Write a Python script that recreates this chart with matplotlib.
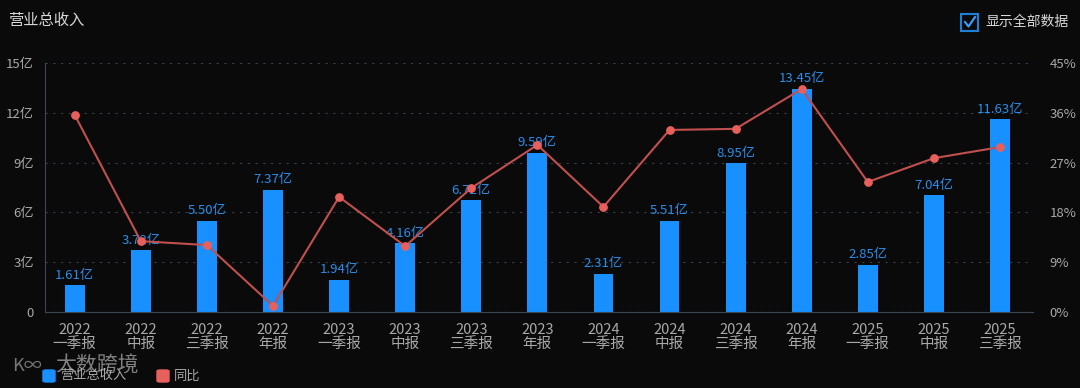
import matplotlib.pyplot as plt
import matplotlib.patches as patches
import numpy as np

plt.rcParams['font.family'] = ['Noto Sans CJK SC', 'DejaVu Sans']

BG = "#0a0a0b"
TXT = "#a8a8a8"

periods = ["2022\n一季报", "2022\n中报", "2022\n三季报", "2022\n年报",
           "2023\n一季报", "2023\n中报", "2023\n三季报", "2023\n年报",
           "2024\n一季报", "2024\n中报", "2024\n三季报", "2024\n年报",
           "2025\n一季报", "2025\n中报", "2025\n三季报"]
revenue = [1.61, 3.72, 5.50, 7.37, 1.94, 4.16, 6.72, 9.59,
           2.31, 5.51, 8.95, 13.45, 2.85, 7.04, 11.63]
yoy = [35.6, 12.8, 12.1, 1.1, 20.8, 11.9, 22.4, 30.2,
       19.0, 32.9, 33.1, 40.3, 23.5, 27.8, 29.8]
left_ticks = [0, 3, 6, 9, 12, 15]
right_ticks = [0, 9, 18, 27, 36, 45]

fig = plt.figure(figsize=(10.8, 3.88), dpi=100, facecolor=BG)
ax = fig.add_axes([45 / 1080, 1 - 312 / 388, (1033 - 45) / 1080, (312 - 63) / 388])
ax.set_facecolor(BG)
x = np.arange(len(periods))

ax.bar(x, revenue, width=0.3, color="#1890ff", zorder=2)
for xi, v in zip(x, revenue):
    ax.text(xi, v + 0.2, f"{v:.2f}亿", ha="center", va="bottom",
            color="#2a8de8", fontsize=9.5, zorder=4)

ax.set_xlim(-0.45, len(periods) - 0.5)
ax.set_ylim(0, 15)
ax.set_yticks(left_ticks)
ax.set_yticklabels(["0"] + [f"{t}亿" for t in left_ticks[1:]])
ax.set_xticks(x)
ax.set_xticklabels(periods)
ax.tick_params(axis="both", colors=TXT, length=0)
ax.tick_params(axis="x", pad=8, labelsize=10.5)
ax.tick_params(axis="y", pad=8, labelsize=9.5)
for lbl in ax.get_xticklabels():
    lbl.set_linespacing(1.0)
ax.grid(axis="y", color="#3a3f47", linestyle=(0, (2, 5)), linewidth=0.8, zorder=0)
for s in ["top", "right"]:
    ax.spines[s].set_visible(False)
ax.spines["left"].set_color("#3c4654")
ax.spines["bottom"].set_color("#3c4654")

ax2 = ax.twinx()
ax2.set_ylim(0, 45)
ax2.set_yticks(right_ticks)
ax2.set_yticklabels([f"{t}%" for t in right_ticks])
ax2.tick_params(axis="y", colors=TXT, labelsize=9.5, length=0, pad=12)
for s in ax2.spines.values():
    s.set_visible(False)
ax2.plot(x, yoy, color="#c0504d", linewidth=1.5, zorder=3)
ax2.scatter(x, yoy, s=28, color="#e8605c", zorder=4)

# title
fig.text(8 / 1080, 1 - 20 / 388, "营业总收入", color="#d8d8d8", fontsize=11, va="center")

# checkbox
box = patches.Rectangle((961 / 1080, 1 - 31 / 388), 17 / 1080, 17 / 388,
                        transform=fig.transFigure, fill=False,
                        edgecolor="#1f7fd6", linewidth=1.5)
fig.patches.append(box)
fig.lines.append(plt.Line2D([965 / 1080, 968.5 / 1080, 975 / 1080],
                            [1 - 22 / 388, 1 - 26.5 / 388, 1 - 17 / 388],
                            transform=fig.transFigure, color="#3aa0ff", linewidth=1.5))
fig.text(985 / 1080, 1 - 22 / 388, "显示全部数据", color="#d8d8d8", fontsize=10, va="center")

# legend
fig.patches.append(patches.FancyBboxPatch((43 / 1080, 1 - 382 / 388), 12 / 1080, 12 / 388,
                                          boxstyle="round,pad=0,rounding_size=0.003",
                                          transform=fig.transFigure, color="#1890ff"))
fig.text(60 / 1080, 1 - 376 / 388, "营业总收入", color=TXT, fontsize=9.5, va="center")
fig.patches.append(patches.FancyBboxPatch((157 / 1080, 1 - 382 / 388), 12 / 1080, 12 / 388,
                                          boxstyle="round,pad=0,rounding_size=0.003",
                                          transform=fig.transFigure, color="#e8605c"))
fig.text(174 / 1080, 1 - 376 / 388, "同比", color=TXT, fontsize=9.5, va="center")

# watermark
fig.text(12 / 1080, 1 - 366 / 388, "K∞", color="#cfcfcf", alpha=0.55, fontsize=13, va="center")
fig.text(55 / 1080, 1 - 366 / 388, "大数跨境", color="#d0d0d0", alpha=0.6, fontsize=15, va="center")

fig.savefig("out.png", dpi=100, facecolor=BG)
